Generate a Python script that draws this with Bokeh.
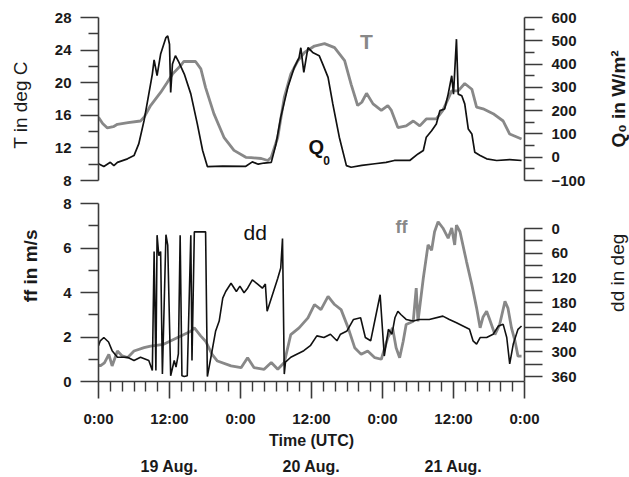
import math
from bokeh.plotting import figure
from bokeh.models import Range1d, LinearAxis, FixedTicker
from bokeh.layouts import column, row
from bokeh.embed import file_html
from bokeh.resources import INLINE
from bokeh.core.properties import value

# ---------------- data (hours since 19 Aug 0:00 UTC) ----------------
T_hours = [0, 0.7, 1.5, 2.5, 3.2, 5, 7.1, 7.7, 8.8, 10.5,
           11.5, 12.5, 13.9, 14.4, 16.4, 17.3, 18.1, 19.5, 21.2, 22.9,
           24.9, 25.8, 27.5, 28.6, 29.2, 30.3, 31.4, 32.5, 33.7, 34.8,
           36.5, 38.2, 39.9, 41.6, 42.7, 43.8, 44.5, 45.3, 46.4, 47.8,
           48.9, 49.5, 50.6, 52, 53.2, 54.3, 55.4, 57.1, 58.2, 59.7,
           60.8, 61.9, 63.1, 63.9, 65, 66.7, 68.4, 69.5, 71.5]
T_values = [15.75, 15.0, 14.45, 14.6, 14.9, 15.1, 15.3, 15.75, 17.2, 18.8,
            19.9, 21.05, 22.1, 22.6, 22.6, 21.7, 19.4, 16.2, 13.3, 11.7,
            10.85, 10.8, 10.7, 10.45, 10.85, 13.3, 18.2, 21.05, 22.7, 23.7,
            24.5, 24.8, 24.3, 22.7, 19.8, 17.2, 17.6, 18.7, 17.4, 16.6,
            17.2, 16.6, 14.5, 14.7, 15.3, 14.7, 15.55, 15.55, 16.6, 19.0,
            19.0, 19.9, 19.2, 17.0, 16.8, 16.2, 15.3, 13.7, 13.1]

Q_hours = [0, 0.9, 2, 2.6, 3.2, 4.9, 6, 6.8, 7.7, 8.5,
           9.1, 9.4, 9.9, 10.5, 11.4, 11.7, 12.0, 12.2, 12.5, 13,
           13.6, 14.5, 15.6, 16.7, 17.6, 18.4, 21, 24.9, 26, 27,
           28, 29.2, 30, 30.8, 32, 33.1, 33.9, 34.2, 34.7, 35.4,
           36.2, 37.3, 37.9, 38.8, 39.6, 40.7, 41.9, 42.7, 44.5, 46.7,
           48.6, 50, 52.6, 54, 54.9, 55.4, 56.3, 57.1, 57.7, 58.5,
           59.1, 59.7, 60, 60.5, 60.8, 61.4, 61.9, 62.5, 63.1, 63.6,
           64.5, 65.6, 67.3, 69.5, 71.5]
Q_values = [-28, -40, -22, -36, -22, -7, 7, 57, 157, 271,
            357, 418, 350, 443, 514, 521, 485, 278, 400, 436,
            407, 357, 272, 143, 29, -40, -38, -39, -20, -30,
            -25, -22, 57, 171, 300, 386, 428, 470, 364, 471,
            450, 436, 400, 343, 229, 86, -36, -43, -35, -28,
            -22, -14, -14, 14, 29, 86, 114, 143, 200, 207,
            271, 350, 271, 507, 271, 264, 229, 121, 100, 21,
            7, -7, -14, -10, -14]

ff_hours = [0, 0.3, 1.0, 1.75, 2.3, 3.2, 4.0, 4.9, 6, 7.7,
            8.8, 11, 13.3, 15.6, 16.2, 17.3, 18.1, 19.2, 20.1, 22.4,
            24.1, 25.2, 26.3, 28, 29.2, 30.3, 31.4, 32.5, 33.9, 35.4,
            36.5, 37.6, 38.8, 39.9, 41, 42.2, 43.3, 44.4, 45.5, 46.7,
            47.8, 48.9, 49.7, 50.3, 50.9, 51.5, 52, 53.2, 53.7, 54,
            54.9, 55.7, 56.3, 56.8, 57.4, 58.2, 59.1, 59.7, 60.2, 60.5,
            61.1, 62.2, 63.1, 63.9, 64.5, 65, 65.6, 66.1, 67, 67.8,
            68.7, 69.2, 69.8, 70.4, 70.9, 71.5]
ff_values = [0.75, 0.70, 0.84, 1.22, 0.70, 1.37, 1.15, 1.07, 1.37, 1.52,
             1.59, 1.67, 1.97, 2.26, 2.41, 2.04, 1.81, 1.22, 0.92, 0.70,
             0.62, 1.07, 0.62, 0.55, 0.85, 0.55, 0.85, 2.11, 2.41, 2.86,
             3.46, 3.23, 3.83, 3.46, 3.23, 2.41, 1.52, 1.22, 1.37, 1.07,
             1.0, 1.97, 2.41, 1.52, 1.07, 1.81, 2.56, 2.71, 4.2, 2.7,
             4.65, 6.14, 5.9, 6.73, 7.18, 6.9, 6.44, 6.9, 6.14, 7.03,
             6.73, 5.39, 4.35, 3.31, 2.41, 2.9, 3.16, 2.8, 2.11, 2.56,
             3.6, 3.3, 2.41, 1.81, 1.14, 1.14]

dd_hours = [0, 0.3, 0.9, 1.7, 2.3, 3.2, 4.9, 6, 7.1, 8.5,
            9.1, 9.4, 9.7, 9.9, 10.2, 10.5, 10.8, 11.4, 11.7, 12.2,
            12.8, 13.1, 13.5, 13.8, 14.1, 14.5, 15, 15.6, 15.8, 16.2,
            17.3, 18.1, 18.4, 19, 19.8, 20.4, 21, 21.5, 22.4, 23.3,
            23.9, 24.6, 25.2, 26, 26.9, 27.7, 28.2, 28.5, 29.4, 30.3,
            30.8, 31.1, 31.4, 31.6, 32.5, 33.6, 34.7, 35.8, 36.9, 38.1,
            39.2, 40.3, 40.9, 42.0, 43.1, 44.3, 45.1, 46, 46.8, 47.6,
            48.3, 49.0, 49.6, 50.1, 50.6, 51.1, 52, 53.2, 54.2, 55.9,
            58.2, 59.3, 60.5, 61.6, 62.7, 63.3, 63.9, 64.5, 65.6, 66.7,
            67.6, 68.4, 69, 69.5, 70.1, 70.9, 71.5]
dd_values = [285, 273, 265, 276, 297, 313, 313, 321, 313, 321,
             345, 56, 345, 16, 66, 56, 354, 15, 40, 358,
             321, 337, 305, 16, 358, 360, 358, 16, 321, 8,
             8, 8, 360, 313, 249, 225, 169, 153, 133, 153,
             140, 156, 145, 125, 135, 145, 135, 201, 161, 121,
             96, 24, 354, 325, 313, 305, 297, 285, 261, 265,
             257, 273, 257, 249, 221, 217, 265, 273, 217, 161,
             310, 245, 257, 217, 201, 209, 221, 225, 221, 221,
             213, 221, 229, 237, 245, 273, 281, 265, 265, 257,
             237, 233, 265, 329, 281, 245, 237]

T_ticks = [8, 12, 16, 20, 24, 28]
T_minor = [10, 14, 18, 22, 26]
Q_ticks = [-100, 0, 100, 200, 300, 400, 500, 600]
Q_minor = [-50, 50, 150, 250, 350, 450, 550]
ff_ticks = [0, 2, 4, 6, 8]
ff_minor = [1, 3, 5, 7]
dd_ticks = [0, 60, 120, 180, 240, 300, 360]
dd_minor = [30, 90, 150, 210, 270, 330]
time_ticks = [0, 12, 24, 36, 48, 60, 72]
time_labels = ["0:00", "12:00", "0:00", "12:00", "0:00", "12:00", "0:00"]
time_minor = [2, 4, 6, 8, 10, 14, 16, 18, 20, 22, 26, 28, 30, 32, 34,
              38, 40, 42, 44, 46, 50, 52, 54, 56, 58, 62, 64, 66, 68, 70]
day_ticks = [12, 36, 60]
day_labels = ["19 Aug.", "20 Aug.", "21 Aug."]

# ---------------- styling ----------------
GRAY = "#888888"
BLACK = "#111111"
AX = "#3a3a3a"
TXT = "#1a1a1a"
FONT = "Liberation Sans"

LEFT_W = 42     # strip holding the left axis titles
RIGHT_W = 29    # strip holding the right axis titles
MAIN_W = 629 - LEFT_W - RIGHT_W
TOP_H = 192
BOT_H = 285


def style_axis(ax, major, minor, minor_out=10, tick_standoff=9):
    ax.ticker = FixedTicker(ticks=major, minor_ticks=minor)
    ax.axis_line_color = AX
    ax.axis_line_width = 1.6
    ax.major_tick_line_color = AX
    ax.major_tick_line_width = 1.6
    ax.major_tick_in = 0
    ax.major_tick_out = 18
    ax.minor_tick_line_color = AX
    ax.minor_tick_line_width = 1.4
    ax.minor_tick_in = 0
    ax.minor_tick_out = minor_out
    ax.major_label_text_font = FONT
    ax.major_label_text_font_size = "15px"
    ax.major_label_text_font_style = "bold"
    ax.major_label_text_color = TXT
    ax.major_label_standoff = tick_standoff


def title_strip(w, h, x, y, text, style):
    f = figure(width=w, height=h, x_range=Range1d(0, w), y_range=Range1d(0, h),
               output_backend="svg", toolbar_location=None,
               x_axis_location=None, y_axis_location=None, min_border=0)
    f.grid.visible = False
    f.outline_line_color = None
    f.text(x=[x], y=[y], text=[text], angle=math.pi / 2,
           text_font=value(FONT), text_font_size="19px", text_font_style=style,
           text_color=TXT, text_align="center", text_baseline="middle")
    return f


# ---------------- top panel: T and Q0 ----------------
top = figure(width=MAIN_W, height=TOP_H, x_range=Range1d(0, 72), y_range=Range1d(8, 28),
             output_backend="svg", toolbar_location=None, x_axis_location=None,
             min_border_left=98 - LEFT_W, min_border_right=629 - 524 - RIGHT_W,
             min_border_top=17, min_border_bottom=12)
top.extra_y_ranges = {"q": Range1d(-100, 600)}
top.grid.visible = False
top.outline_line_color = None

top.line(T_hours, T_values, color=GRAY, line_width=2.8)
top.line(Q_hours, Q_values, color=BLACK, line_width=1.7, y_range_name="q")

style_axis(top.yaxis[0], T_ticks, T_minor)
q_axis = LinearAxis(y_range_name="q")
top.add_layout(q_axis, "right")
style_axis(q_axis, Q_ticks, Q_minor)

top.text(x=[45.3], y=[23.7], text=["T"], text_font=value(FONT), text_font_size="21px",
         text_font_style="bold", text_color=GRAY, text_align="center", text_baseline="bottom")
top.text(x=[35.5], y=[10.8], text=["Q"], text_font=value(FONT), text_font_size="20px",
         text_font_style="bold", text_color=BLACK, text_align="left", text_baseline="bottom")
top.text(x=[38.0], y=[9.85], text=["0"], text_font=value(FONT), text_font_size="12px",
         text_font_style="bold", text_color=BLACK, text_align="left", text_baseline="bottom")

top_left = title_strip(LEFT_W, TOP_H, 20, TOP_H - 100, "T  in deg C", "normal")
top_right = title_strip(RIGHT_W, TOP_H, 18, TOP_H - 96, "Q\u2080 in W/m\u00b2", "bold")

# ---------------- bottom panel: ff and dd ----------------
bot = figure(width=MAIN_W, height=BOT_H, x_range=top.x_range, y_range=Range1d(0, 8),
             output_backend="svg", toolbar_location=None,
             min_border_left=98 - LEFT_W, min_border_right=629 - 524 - RIGHT_W,
             min_border_top=11, min_border_bottom=94)
bot.extra_y_ranges = {"dd": Range1d(372, -61)}
bot.grid.visible = False
bot.outline_line_color = None

bot.line(ff_hours, ff_values, color=GRAY, line_width=2.8)
bot.line(dd_hours, dd_values, color=BLACK, line_width=1.6, y_range_name="dd")

style_axis(bot.yaxis[0], ff_ticks, ff_minor)
dd_axis = LinearAxis(y_range_name="dd", bounds=(0, 372))
bot.add_layout(dd_axis, "right")
style_axis(dd_axis, dd_ticks, dd_minor, minor_out=18)

xa = bot.xaxis[0]
style_axis(xa, time_ticks, time_minor, minor_out=10, tick_standoff=11)
xa.major_tick_out = 17
xa.major_label_overrides = dict(zip(time_ticks, time_labels))
xa.axis_label = "Time (UTC)"
xa.axis_label_text_font = FONT
xa.axis_label_text_font_size = "16px"
xa.axis_label_text_font_style = "bold"
xa.axis_label_text_color = TXT
xa.axis_label_standoff = 2

day_axis = LinearAxis()
day_axis.ticker = FixedTicker(ticks=day_ticks, minor_ticks=[])
day_axis.major_label_overrides = dict(zip(day_ticks, day_labels))
day_axis.axis_line_color = None
day_axis.major_tick_line_color = None
day_axis.minor_tick_line_color = None
day_axis.major_tick_out = 0
day_axis.major_tick_in = 0
day_axis.major_label_standoff = 6
day_axis.major_label_text_font = FONT
day_axis.major_label_text_font_size = "16px"
day_axis.major_label_text_font_style = "bold"
day_axis.major_label_text_color = TXT
bot.add_layout(day_axis, "below")

bot.text(x=[24.5], y=[6.16], text=["dd"], text_font=value(FONT), text_font_size="21px",
         text_font_style="normal", text_color=BLACK, text_align="left", text_baseline="bottom")
bot.text(x=[50.2], y=[6.5], text=["ff"], text_font=value(FONT), text_font_size="18px",
         text_font_style="bold", text_color=GRAY, text_align="left", text_baseline="bottom")

bot_left = title_strip(LEFT_W, BOT_H, 30, BOT_H - 100, "ff in m/s", "bold")
bot_right = title_strip(RIGHT_W, BOT_H, 17, BOT_H - 111, "dd in deg", "normal")

layout = column(row(top_left, top, top_right, spacing=0),
                row(bot_left, bot, bot_right, spacing=0), spacing=0)
open("out.html", "w").write(file_html(layout, INLINE))
